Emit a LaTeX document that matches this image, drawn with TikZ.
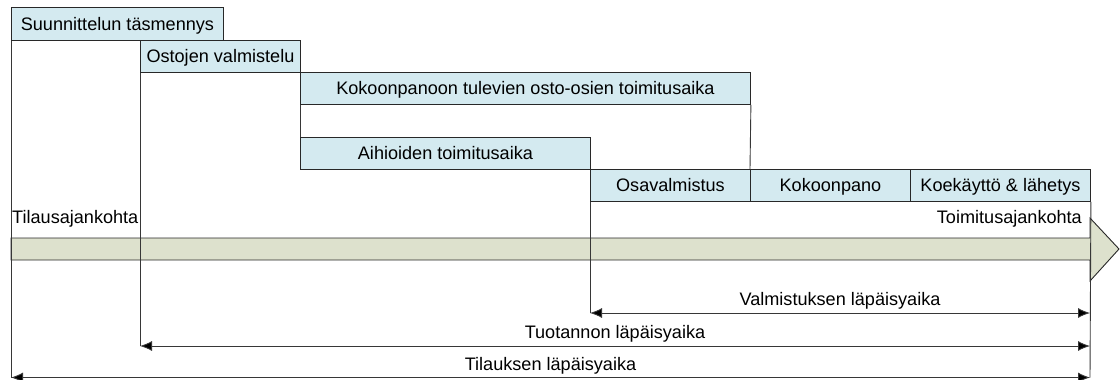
\documentclass[tikz,border=0pt]{standalone}
\usepackage{fontspec}
\setmainfont{Liberation Sans}
\usetikzlibrary{arrows.meta}
\definecolor{boxfill}{RGB}{212,234,240}
\definecolor{bandfill}{RGB}{221,225,205}
\definecolor{edge}{RGB}{40,40,40}
\definecolor{wire}{RGB}{55,55,55}
\begin{document}
\begin{tikzpicture}[x=1pt, y=-1pt,
  font=\fontsize{18.1pt}{20pt}\selectfont,
  phase/.style={draw=edge, fill=boxfill, line width=0.9pt, inner sep=0pt,
    text height=13pt, text depth=0pt, anchor=north west},
  rule/.style={draw=wire, line width=0.9pt},
  span/.style={draw=wire, line width=0.9pt,
    {Latex[length=12pt,width=10pt,fill=black]}-{Latex[length=12pt,width=10pt,fill=black]}},
  spanlabel/.style={midway, anchor=base, yshift=7.5pt, inner sep=0pt},
  milestone/.style={inner sep=0pt}]
\useasboundingbox (0,0) rectangle (1120,380);

% time axis band with arrow head
\path[draw=edge, fill=bandfill, line width=0.9pt]
  (11,238) -- (1090,238) -- (1090,218) -- (1119,249) -- (1090,281)
  -- (1090,260) -- (11,260) -- cycle;

% ends of the lead-time spans
\coordinate (tilL) at (11,377.5);
\coordinate (tilR) at (1090,377.5);
\coordinate (tuoL) at (140,346);
\coordinate (tuoR) at (1090,346);
\coordinate (valL) at (590,313);
\coordinate (valR) at (1090,313);

% phases
\node[phase, minimum width=212pt, minimum height=33pt] (b1) at (11,7) {Suunnittelun täsmennys};
\node[phase, minimum width=160pt, minimum height=32pt] (b2) at (140,40) {Ostojen valmistelu};
\node[phase, minimum width=450pt, minimum height=32pt] (b3) at (300,72) {Kokoonpanoon tulevien osto-osien toimitusaika};
\node[phase, minimum width=290pt, minimum height=32pt] (b4) at (300,137) {Aihioiden toimitusaika};
\node[phase, minimum width=160pt, minimum height=32pt] (b5) at (590,169) {Osavalmistus};
\node[phase, minimum width=160pt, minimum height=32pt] (b6) at (750,169) {Kokoonpano};
\node[phase, minimum width=180pt, minimum height=32pt] (b7) at (910,169) {Koekäyttö \& lähetys};

% vertical dependency lines
\draw[rule] (b1.south west) -- (tilL);
\draw[rule] (b2.south west) -- (tuoL);
\draw[rule] (b3.south west) -- (b4.north west);
\draw[rule] (b3.south east) -- (b6.north west);
\draw[rule] (b5.south west) -- (valL);
\draw[rule] (b7.south east) -- (tilR);

% milestones
\node[milestone, anchor=base west] (order) at (12,223) {Tilausajankohta};
\node[milestone, anchor=base east] (delivery) at (1082,223) {Toimitusajankohta};

% lead times
\draw[span] (valL) -- (valR) node[spanlabel] (lv) {Valmistuksen läpäisyaika};
\draw[span] (tuoL) -- (tuoR) node[spanlabel] (lt) {Tuotannon läpäisyaika};
\draw[span] (tilL) -- (tilR) node[spanlabel] (lo) {Tilauksen läpäisyaika};
\end{tikzpicture}
\end{document}
